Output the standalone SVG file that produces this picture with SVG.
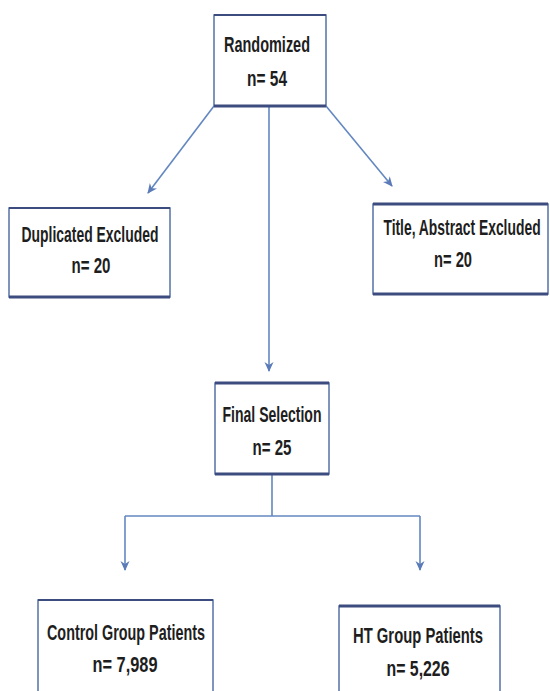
<svg xmlns="http://www.w3.org/2000/svg" width="550" height="691" viewBox="0 0 550 691">
<style>
.box{fill:#fff;stroke:#5571a8;stroke-width:1.5}
.edge{stroke:#3c4c7e;stroke-width:3}
.t{font-family:"Liberation Sans",Arial,sans-serif;font-size:22px;font-weight:bold;fill:#1e1e1e;text-anchor:middle}
.c{fill:none;stroke:#6387c0;stroke-width:1.6}
</style>
<defs>
<marker id="ah" viewBox="0 0 10 10" refX="9" refY="5" markerWidth="10" markerHeight="10" orient="auto" markerUnits="userSpaceOnUse">
<path d="M0,0.5 L10,5 L0,9.5 L3,5 Z" fill="#5a7ab8"/>
</marker>
</defs>
<rect width="550" height="691" fill="#fff"/>
<g id="connectors">
<line class="c" x1="214" y1="106" x2="148" y2="193" marker-end="url(#ah)"/>
<line class="c" x1="326" y1="106" x2="392" y2="186" marker-end="url(#ah)"/>
<line class="c" x1="269" y1="106" x2="269" y2="371" marker-end="url(#ah)"/>
<line class="c" x1="272" y1="474" x2="272" y2="516"/>
<line class="c" x1="125" y1="516" x2="420" y2="516"/>
<line class="c" x1="125" y1="516" x2="125" y2="570" marker-end="url(#ah)"/>
<line class="c" x1="420" y1="516" x2="420" y2="570" marker-end="url(#ah)"/>
</g>
<g id="randomized">
<rect class="box" x="214" y="15" width="112" height="91"/>
<line class="edge" x1="214" y1="15" x2="326" y2="15" style="stroke-width:2"/>
<line class="edge" x1="214" y1="106" x2="326" y2="106"/>
<text class="t" x="267" y="52" textLength="86" lengthAdjust="spacingAndGlyphs">Randomized</text>
<text class="t" x="267" y="86" textLength="40" lengthAdjust="spacingAndGlyphs">n= 54</text>
</g>
<g id="duplicated">
<rect class="box" x="9" y="208" width="161" height="89"/>
<line class="edge" x1="9" y1="208" x2="170" y2="208" style="stroke-width:2"/>
<line class="edge" x1="9" y1="297" x2="170" y2="297"/>
<text class="t" x="90" y="242" textLength="137" lengthAdjust="spacingAndGlyphs">Duplicated Excluded</text>
<text class="t" x="91" y="273" textLength="39" lengthAdjust="spacingAndGlyphs">n= 20</text>
</g>
<g id="title">
<rect class="box" x="373" y="204" width="175" height="90"/>
<line class="edge" x1="373" y1="204" x2="548" y2="204"/>
<line class="edge" x1="373" y1="294" x2="548" y2="294"/>
<text class="t" transform="translate(462,235) scale(0.6,1)" x="0" y="0" textLength="262" lengthAdjust="spacingAndGlyphs">Title, Abstract Excluded</text>
<text class="t" x="453" y="267" textLength="38" lengthAdjust="spacingAndGlyphs">n= 20</text>
</g>
<g id="final">
<rect class="box" x="215" y="383" width="114" height="91"/>
<line class="edge" x1="215" y1="383" x2="329" y2="383"/>
<line class="edge" x1="215" y1="474" x2="329" y2="474"/>
<text class="t" x="272" y="422" textLength="99" lengthAdjust="spacingAndGlyphs">Final Selection</text>
<text class="t" x="272" y="455" textLength="39" lengthAdjust="spacingAndGlyphs">n= 25</text>
</g>
<g id="control">
<rect class="box" x="38" y="600" width="175" height="100"/>
<line class="edge" x1="38" y1="600" x2="213" y2="600" style="stroke-width:2"/>
<text class="t" x="126" y="640" textLength="158" lengthAdjust="spacingAndGlyphs">Control Group Patients</text>
<text class="t" x="125" y="672" textLength="65" lengthAdjust="spacingAndGlyphs">n= 7,989</text>
</g>
<g id="ht">
<rect class="box" x="339" y="606" width="161" height="100"/>
<line class="edge" x1="339" y1="606" x2="500" y2="606"/>
<text class="t" x="418" y="643" textLength="130" lengthAdjust="spacingAndGlyphs">HT Group Patients</text>
<text class="t" x="418" y="676" textLength="63" lengthAdjust="spacingAndGlyphs">n= 5,226</text>
</g>
</svg>
